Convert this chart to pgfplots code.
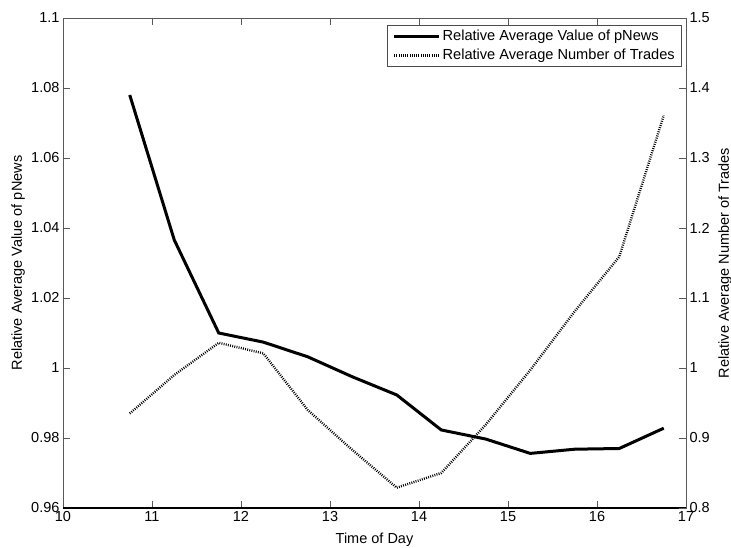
\documentclass[border=0pt]{standalone}
\usepackage{pgfplots}
\pgfplotsset{compat=1.18}
\usepackage{fontspec}
\setmainfont{Liberation Sans}

% values
\pgfplotstableread{
t     pnews   trades
10.75 1.0780  0.935
11.25 1.0366  0.990
11.75 1.0100  1.036
12.25 1.0074  1.021
12.75 1.0032  0.940
13.25 0.9975  0.883
13.75 0.9923  0.829
14.25 0.9823  0.850
14.75 0.9797  0.919
15.25 0.9756  0.997
15.75 0.9768  1.081
16.25 0.9770  1.159
16.75 0.9828  1.361
}\daydata

\pgfplotsset{
  mybase/.style={
    scale only axis, width=623pt, height=490pt,
    xmin=10, xmax=17,
    font=\fontsize{14.5}{16}\selectfont,
    tick align=inside, major tick length=7pt,
    tick style={gray!70!black, line width=0.6pt},
    axis line style={gray!70!black, line width=0.6pt},
    /pgf/number format/assume math mode=true,
    /pgf/number format/fixed,
    /pgf/number format/precision=2,
  },
  dotty/.style={black, line width=2.4pt, dash pattern=on 0.9pt off 1.3pt},
}

\begin{document}
\begin{tikzpicture}
\begin{axis}[
  mybase,
  ymin=0.96, ymax=1.1,
  xtick={10,11,...,17},
  ytick={0.96,0.98,1,1.02,1.04,1.06,1.08,1.1},
  xtick pos=both, ytick pos=left,
  xlabel={Time of Day},
  ylabel={Relative Average Value of pNews},
  xlabel style={at={(axis description cs:0.5,-0.0653)}, anchor=center},
  ylabel style={at={(axis description cs:-0.0722,0.5)}, rotate=0, anchor=center},
  legend style={at={(rel axis cs:0.9936,0.9857)}, anchor=north east,
    draw=gray!60!black, line width=0.6pt, font=\fontsize{14.6}{17}\selectfont,
    inner xsep=5pt, inner ysep=3pt, row sep=3pt,
    /tikz/every even column/.append style={column sep=4pt}},
  legend cell align=left,
  legend image code/.code={\draw[#1] (0pt,0pt) -- (45pt,0pt);},
]
\addplot[black, line width=3pt] table[x=t, y=pnews] {\daydata};
\addlegendentry{Relative Average Value of pNews}
\addlegendimage{dotty}
\addlegendentry{Relative Average Number of Trades}
\draw[black, line width=1.2pt] (rel axis cs:0,0) -- (rel axis cs:1,0);
\end{axis}
\begin{axis}[
  mybase,
  ymin=0.8, ymax=1.5,
  ytick={0.8,0.9,...,1.5},
  axis x line=none,
  axis y line*=right,
  ylabel={Relative Average Number of Trades},
  ylabel style={at={(axis description cs:1.0626,0.5)}, rotate=0, anchor=center},
  yticklabel style={/pgf/number format/precision=1},
]
\addplot[dotty] table[x=t, y=trades] {\daydata};
\end{axis}
\pgfresetboundingbox
\path[use as bounding box] (-63pt,-39pt) rectangle (668pt,508pt);
\end{tikzpicture}
\end{document}
